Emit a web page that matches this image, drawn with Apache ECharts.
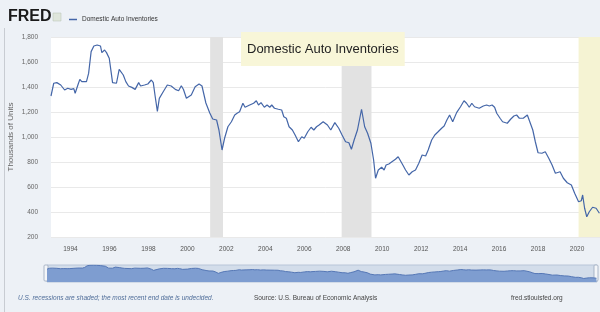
<!DOCTYPE html>
<html>
<head>
<meta charset="utf-8">
<script src="https://cdn.jsdelivr.net/npm/echarts@6/dist/echarts.min.js"></script>
<style>
  html, body { margin: 0; padding: 0; background: #edf1f6; }
  #chart { width: 600px; height: 312px; }
</style>
</head>
<body>
<div id="chart"></div>
<script>
// decimal years and values (thousands of units)
var years = [
  1993.00, 1993.14, 1993.30, 1993.50, 1993.70, 1993.86, 1994.03, 1994.17, 1994.24, 1994.38,
  1994.48, 1994.58, 1994.82, 1994.93, 1995.06, 1995.20, 1995.37, 1995.44, 1995.54, 1995.61,
  1995.75, 1995.85, 1995.99, 1996.09, 1996.16, 1996.26, 1996.36, 1996.50, 1996.60, 1996.71,
  1996.84, 1996.98, 1997.15, 1997.32, 1997.50, 1997.60, 1997.80, 1997.97, 1998.15, 1998.25,
  1998.35, 1998.46, 1998.56, 1998.76, 1998.97, 1999.17, 1999.38, 1999.55, 1999.69, 1999.80,
  1999.95, 2000.20, 2000.40, 2000.60, 2000.75, 2000.95, 2001.15, 2001.30, 2001.50, 2001.62,
  2001.78, 2001.91, 2002.08, 2002.26, 2002.43, 2002.55, 2002.68, 2002.85, 2002.96, 2003.20,
  2003.40, 2003.54, 2003.65, 2003.78, 2003.95, 2004.09, 2004.23, 2004.33, 2004.47, 2004.67,
  2004.84, 2004.95, 2005.08, 2005.22, 2005.39, 2005.53, 2005.70, 2005.87, 2006.00, 2006.18,
  2006.35, 2006.49, 2006.63, 2006.76, 2006.97, 2007.19, 2007.36, 2007.57, 2007.77, 2007.94,
  2008.12, 2008.29, 2008.42, 2008.56, 2008.73, 2008.94, 2009.10, 2009.25, 2009.42, 2009.56,
  2009.66, 2009.80, 2009.97, 2010.10, 2010.20, 2010.34, 2010.50, 2010.68, 2010.82, 2010.92,
  2011.06, 2011.20, 2011.37, 2011.54, 2011.71, 2011.88, 2012.05, 2012.23, 2012.36, 2012.54,
  2012.70, 2012.87, 2013.05, 2013.18, 2013.32, 2013.46, 2013.62, 2013.82, 2014.02, 2014.20,
  2014.33, 2014.47, 2014.60, 2014.74, 2014.98, 2015.19, 2015.36, 2015.50, 2015.64, 2015.77,
  2015.88, 2016.05, 2016.18, 2016.42, 2016.59, 2016.76, 2016.90, 2017.04, 2017.24, 2017.45,
  2017.55, 2017.73, 2017.86, 2018.00, 2018.20, 2018.37, 2018.55, 2018.72, 2018.89, 2018.99,
  2019.13, 2019.30, 2019.50, 2019.71, 2019.88, 2020.08, 2020.22, 2020.29, 2020.39, 2020.50,
  2020.63, 2020.80, 2020.98, 2021.15
];
var inventories = [
  1328, 1430, 1435, 1416, 1376, 1390, 1381, 1387, 1350, 1416,
  1461, 1443, 1443, 1509, 1683, 1728, 1736, 1723, 1728, 1675,
  1696, 1675, 1630, 1616, 1435, 1443, 1430, 1541, 1557, 1496,
  1443, 1408, 1397, 1381, 1435, 1408, 1416, 1424, 1456, 1435,
  1322, 1205, 1309, 1362, 1416, 1408, 1381, 1370, 1410, 1380,
  1310, 1336, 1402, 1424, 1408, 1272, 1192, 1144, 1136, 1056,
  896, 990, 1082, 1122, 1176, 1190, 1202, 1270, 1238, 1256,
  1270, 1290, 1256, 1275, 1238, 1256, 1238, 1256, 1230, 1222,
  1216, 1162, 1150, 1082, 1056, 1016, 962, 1002, 990, 1042,
  1078, 1056, 1082, 1096, 1122, 1096, 1056, 1115, 1070, 1016,
  962, 954, 902, 976, 1056, 1222, 1082, 1030, 950, 816,
  670, 736, 758, 736, 776, 784, 802, 822, 842, 838,
  776, 736, 696, 722, 736, 790, 856, 848, 896, 976,
  1016, 1042, 1070, 1088, 1136, 1176, 1122, 1195, 1242, 1290,
  1270, 1238, 1270, 1242, 1230, 1248, 1256, 1248, 1256, 1238,
  1190, 1150, 1122, 1110, 1142, 1168, 1176, 1150, 1150, 1176,
  1162, 1056, 962, 874, 870, 882, 830, 776, 710, 696,
  722, 670, 634, 616, 550, 482, 490, 536, 430, 362,
  402, 438, 430, 390
];
// recessions (the last one has no end date yet)
var recessionStarts = [2001.17, 2007.92, 2020.08];
var recessionEnds = [2001.83, 2009.45, 2021.18];
var recessionColors = ['#e2e2e2', '#e2e2e2', '#f5f3d3'];

var seriesName = 'Domestic Auto Inventories';
var font = '"Liberation Sans", Arial, sans-serif';

var points = years.map(function (y, i) { return [y, inventories[i]]; });
var bands = recessionStarts.map(function (s, i) {
  return [{ xAxis: s, itemStyle: { color: recessionColors[i] } }, { xAxis: recessionEnds[i] }];
});

var chart = echarts.init(document.getElementById('chart'));
chart.setOption({
  backgroundColor: '#edf1f6',
  animation: false,
  title: {
    text: 'Domestic Auto Inventories',
    left: 241, top: 32,
    padding: [11, 6, 10, 6],
    backgroundColor: '#f8f6d8',
    textStyle: { fontFamily: font, fontSize: 13, fontWeight: 'normal', color: '#222' }
  },
  legend: {
    left: 64, top: 11,
    icon: 'rect', itemWidth: 8, itemHeight: 1.5, itemGap: 4,
    textStyle: { fontFamily: font, fontSize: 6.5, color: '#333' },
    data: [seriesName]
  },
  grid: [
    { left: 51, right: 0, top: 37, bottom: 75, outerBoundsMode: 'none', show: true, backgroundColor: '#fff', borderWidth: 0 },
    { left: 47, right: 3, top: 265, height: 17, outerBoundsMode: 'none', show: true, backgroundColor: '#d3ddea', borderColor: '#b8c5d8', borderWidth: 1 }
  ],
  xAxis: [
    {
      type: 'value', min: 1993, max: 2021.18, interval: 1,
      axisLine: { show: false }, axisTick: { show: false }, splitLine: { show: false },
      axisLabel: {
        margin: 9, fontFamily: font, fontSize: 6.5, color: '#555', showMaxLabel: false,
        formatter: function (v) { return v % 2 === 0 ? String(v) : ''; }
      }
    },
    {
      type: 'value', gridIndex: 1, min: 1993, max: 2021.18, show: false
    }
  ],
  yAxis: [
    {
      type: 'value', min: 200, max: 1800, interval: 200,
      name: 'Thousands of Units', nameLocation: 'middle', nameGap: 36, nameMoveOverlap: false,
      nameTextStyle: { fontFamily: font, fontSize: 8, color: '#666' },
      axisLine: { show: false }, axisTick: { show: false },
      axisLabel: {
        margin: 13, fontFamily: font, fontSize: 6.5, color: '#666',
        formatter: function (v) { return v.toLocaleString('en-US'); }
      },
      splitLine: { lineStyle: { color: '#e9e9e9', width: 1 } }
    },
    { type: 'value', gridIndex: 1, min: 0, max: 1760, show: false }
  ],
  series: [
    {
      name: seriesName, type: 'line', data: points,
      showSymbol: false, symbol: 'none',
      lineStyle: { color: '#4466a8', width: 1.2 },
      itemStyle: { color: '#4466a8' },
      markArea: { silent: true, data: bands },
      z: 3
    },
    {
      name: 'navigator', type: 'line', xAxisIndex: 1, yAxisIndex: 1, data: points,
      showSymbol: false, symbol: 'none',
      lineStyle: { color: '#5577b5', width: 1 },
      areaStyle: { color: '#7e9dd0', opacity: 1 }
    }
  ],
  graphic: [
    { type: 'line', shape: { x1: 4.5, y1: 28, x2: 4.5, y2: 312 }, style: { stroke: '#c8ccd2', lineWidth: 1 } },
    { type: 'text', left: 8, top: 9, style: { text: 'FRED', fontFamily: font, fontWeight: 'bold', fontSize: 16, fill: '#1a1a1a' } },
    { type: 'rect', shape: { x: 53, y: 13, width: 8, height: 8 }, style: { fill: '#dfe6dc', stroke: '#b5c3b0', lineWidth: 0.5 } },
    { type: 'rect', shape: { x: 44, y: 265, width: 4, height: 16, r: 1 }, style: { fill: '#f4f6f9', stroke: '#9aa8bd', lineWidth: 0.8 } },
    { type: 'rect', shape: { x: 594, y: 265, width: 4, height: 16, r: 1 }, style: { fill: '#f4f6f9', stroke: '#9aa8bd', lineWidth: 0.8 } },
    { type: 'text', left: 18, top: 295, style: { text: 'U.S. recessions are shaded; the most recent end date is undecided.', fontFamily: font, fontStyle: 'italic', fontSize: 6.5, fill: '#4f6d99' } },
    { type: 'text', left: 254, top: 295, style: { text: 'Source: U.S. Bureau of Economic Analysis', fontFamily: font, fontSize: 6.5, fill: '#444' } },
    { type: 'text', left: 511, top: 295, style: { text: 'fred.stlouisfed.org', fontFamily: font, fontSize: 6.5, fill: '#444' } }
  ]
});
</script>
</body>
</html>
